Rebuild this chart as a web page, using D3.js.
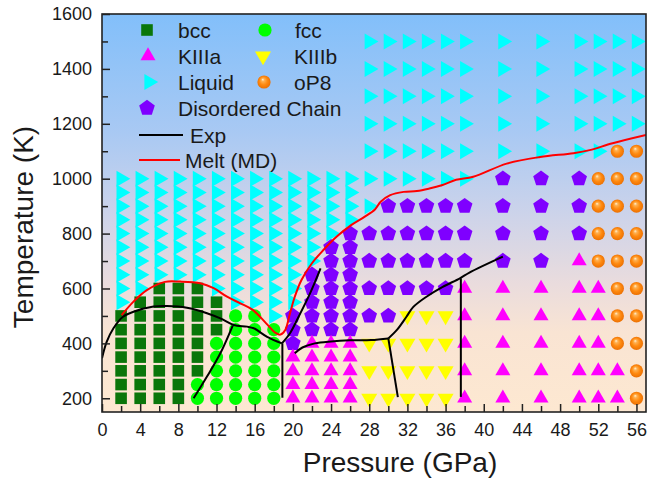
<!DOCTYPE html>
<html><head><meta charset="utf-8">
<script src="https://cdn.jsdelivr.net/npm/d3@7"></script>
<style>
body{margin:0;background:#fff}
svg{display:block}
text{font-family:"Liberation Sans",Arial,sans-serif;fill:#1a1a1a}
</style>
</head><body>
<svg id="chart" width="651" height="481"></svg>
<script>
// ---- ticks ----
const xTicks=[0,4,8,12,16,20,24,28,32,36,40,44,48,52,56];
const xMinorTicks=[2,6,10,14,18,22,26,30,34,38,42,46,50,54];
const yTicks=[200,400,600,800,1000,1200,1400,1600];
const yMinorTicks=[300,500,700,900,1100,1300,1500];

// ---- phase points: [pressure GPa, temperatures K] ----
const bcc=[
 [2,[200,250,300,350,400,450,500]],
 [4,[200,250,300,350,400,450,500,550]],
 [6,[200,250,300,350,400,450,500,550,600]],
 [8,[200,250,300,350,400,450,500,550,600]],
 [10,[300,350,400,450,500,550,600]],
 [12,[450,500,550]]
];
const fcc=[
 [10,[200,250]],
 [12,[200,250,300,350,400]],
 [14,[200,250,300,350,400,450,500]],
 [16,[200,250,300,350,400,450,500]],
 [18,[200,250,300,350,400,450]]
];
const liquid=[
 [2,[550,600,650,700,750,800,850,900,950,1000]],
 [4,[600,650,700,750,800,850,900,950,1000]],
 [6,[650,700,750,800,850,900,950,1000]],
 [8,[650,700,750,800,850,900,950,1000]],
 [10,[650,700,750,800,850,900,950,1000]],
 [12,[600,650,700,750,800,850,900,950,1000]],
 [14,[550,600,650,700,750,800,850,900,950,1000]],
 [16,[550,600,650,700,750,800,850,900,950,1000]],
 [18,[500,550,600,650,700,750,800,850,900,950,1000]],
 [20,[550,600,650,700,750,800,850,900,950,1000]],
 [22,[700,750,800,850,900,950,1000]],
 [24,[800,850,900,950,1000]],
 [26,[850,900,950,1000]],
 [28,[900,1000,1100,1200,1300,1400,1500]],
 [30,[1000,1100,1200,1300,1400,1500]],
 [32,[1000,1100,1200,1300,1400,1500]],
 [34,[1000,1100,1200,1300,1400,1500]],
 [36,[1000,1100,1200,1300,1400,1500]],
 [38,[1000,1100,1200,1300,1400,1500]],
 [42,[1100,1200,1300,1400,1500]],
 [46,[1100,1200,1300,1400,1500]],
 [50,[1100,1200,1300,1400,1500]],
 [52,[1100,1200,1300,1400,1500]],
 [54,[1200,1300,1400,1500]],
 [56,[1200,1300,1400,1500]]
];
const chain=[
 [20,[400,450,500]],
 [22,[450,500,550,600,650]],
 [24,[450,500,550,600,650,700,750]],
 [26,[450,500,550,600,650,700,750,800]],
 [28,[500,600,700,800]],
 [30,[500,600,700,800,900]],
 [32,[600,700,800,900]],
 [34,[600,700,800,900]],
 [36,[600,700,800,900]],
 [38,[700,800,900]],
 [42,[700,800,900,1000]],
 [46,[700,800,900,1000]],
 [50,[800,900,1000]]
];
const kIIIa=[
 [20,[200,250,300,350]],
 [22,[200,250,300,350,400]],
 [24,[200,250,300,350,400]],
 [26,[200,250,300,350,400]],
 [38,[200,300,400,500,600]],
 [42,[200,300,400,500,600]],
 [46,[200,300,400,500,600]],
 [50,[200,300,400,500,600,700]],
 [52,[200,300,400,500,600]],
 [54,[200,300]]
];
const kIIIb=[
 [28,[200,300,400]],
 [30,[200,300,400]],
 [32,[200,300,400,500]],
 [34,[200,300,400,500]],
 [36,[200,300,400,500]]
];
const oP8=[
 [52,[700,800,900,1000]],
 [54,[400,500,600,700,800,900,1000,1100]],
 [56,[200,300,400,500,600,700,800,900,1000,1100]]
];

// ---- boundary lines [P, T] ----
const expMainLow=[[0,346],[0.5,406],[1.2,455],[2.2,497],[3.3,515],[5.4,534],[6.8,536],[8.9,530],[11,510],[12.4,491],[13.8,467],[15.2,461],[15.9,455],[17.3,424],[18.85,400]];
const expMainHigh=[[18.85,400],[19.7,437],[20.6,497],[21.8,582],[22.9,673]];
const expTripleDown=[[18.9,400],[18.9,202]];
const expBccFcc=[[9.6,200],[11,279],[12.4,364],[13.7,465]];
const expKIII=[[20.2,364],[21,385],[22.3,400],[24,407],[26,411],[28.2,412],[30,418]];
const expKIIIDown=[[30,418],[31,204]];
const expUpper=[[30,418],[30.9,449],[31.9,497],[32.6,532],[34,570],[35.7,606],[37.5,637],[38.5,658],[42,716]];
const expVert=[[37.6,637],[37.6,205]];
const meltMD=[[2.06,503],[3.3,552],[4.7,594],[6.6,624],[8.2,625],[10.3,619],[11.7,601],[13.1,570],[14.5,546],[15.8,522],[17.2,473],[18.2,438],[18.7,432],[19.2,449],[19.7,510],[20.2,570],[20.9,631],[22,692],[23.2,740],[24.6,789],[26.1,831],[27.5,861],[28.6,888],[29.2,916],[30.2,940],[31.6,952],[33,955],[34.3,964],[35.6,976],[37.1,996],[38.9,1007],[42.4,1055],[45.9,1079],[49.4,1093],[51.1,1104],[53.5,1129],[57,1159]];

// ---- setup ----
const svg=d3.select("#chart");
const L=102,R=646,T=14,B=412;
const x=d3.scaleLinear().domain([0,57]).range([L,R]);
const y=d3.scaleLinear().domain([150,1600]).range([B,T]);

const defs=svg.append("defs");
const bg=defs.append("linearGradient").attr("id","bg").attr("x1",0).attr("y1",0).attr("x2",0).attr("y2",1);
[["0%","#82bffa"],["30%","#a9c9f3"],["50%","#ccd3ea"],["68%","#eadcdd"],["80%","#f9e4d3"],["100%","#fde8d1"]]
 .forEach(s=>bg.append("stop").attr("offset",s[0]).attr("stop-color",s[1]));
const ball=defs.append("radialGradient").attr("id","ball").attr("cx","50%").attr("cy","50%").attr("r","55%").attr("fx","40%").attr("fy","30%");
[["0%","#fff3d6"],["22%","#ffb050"],["55%","#ff8a10"],["100%","#e86c00"]]
 .forEach(s=>ball.append("stop").attr("offset",s[0]).attr("stop-color",s[1]));
defs.append("clipPath").attr("id","clip").append("rect").attr("x",L).attr("y",T).attr("width",R-L).attr("height",B-T);

svg.append("rect").attr("x",L).attr("y",T).attr("width",R-L).attr("height",B-T).attr("fill","url(#bg)");

// symbol shapes
function symPath(type){
  const s3=Math.sqrt(3);
  if(type==="square"){const a=5.8;return `M${-a},${-a}H${a}V${a}H${-a}Z`;}
  if(type==="circle"){const r=6.6;return `M${r},0A${r},${r} 0 1,1 ${-r},0A${r},${r} 0 1,1 ${r},0Z`;}
  if(type==="up"){const s=15,h=s*s3/2;return `M0,${-2*h/3}L${s/2},${h/3}L${-s/2},${h/3}Z`;}
  if(type==="down"){const s=16,h=s*s3/2;return `M0,${2*h/3}L${s/2},${-h/3}L${-s/2},${-h/3}Z`;}
  if(type==="right"){const s=16,h=s*s3/2;return `M${-h/3},${-s/2}L${2*h/3},0L${-h/3},${s/2}Z`;}
  if(type==="pent"){const r=8.2;const pts=d3.range(5).map(k=>{const a=-Math.PI/2+k*2*Math.PI/5;return [r*Math.cos(a),r*Math.sin(a)];});return "M"+pts.map(p=>p[0].toFixed(2)+","+p[1].toFixed(2)).join("L")+"Z";}
}
const phases=[
 {name:"Liquid",data:liquid,shape:"right",fill:"#00ffff"},
 {name:"bcc",data:bcc,shape:"square",fill:"#0a760a"},
 {name:"fcc",data:fcc,shape:"circle",fill:"#00ff00"},
 {name:"Disordered Chain",data:chain,shape:"pent",fill:"#7f00ff"},
 {name:"KIIIa",data:kIIIa,shape:"up",fill:"#ff00ff"},
 {name:"KIIIb",data:kIIIb,shape:"down",fill:"#ffff00"},
 {name:"oP8",data:oP8,shape:"circle",fill:"url(#ball)"}
];
const plot=svg.append("g").attr("clip-path","url(#clip)");
phases.forEach(ph=>{
  const pts=ph.data.flatMap(([p,ts])=>ts.map(t=>[p,t]));
  plot.append("g").selectAll("path").data(pts).join("path")
    .attr("d",symPath(ph.shape))
    .attr("transform",d=>`translate(${x(d[0])},${y(d[1])})`)
    .attr("fill",ph.fill);
});

// lines
const smooth=d3.line().x(d=>x(d[0])).y(d=>y(d[1])).curve(d3.curveCatmullRom.alpha(0.5));
[expMainLow,expMainHigh,expTripleDown,expBccFcc,expKIII,expKIIIDown,expUpper,expVert].forEach(ln=>{
  plot.append("path").attr("d",smooth(ln)).attr("fill","none").attr("stroke","#000").attr("stroke-width",2);
});
plot.append("path").attr("d",smooth(meltMD)).attr("fill","none").attr("stroke","#ff0000").attr("stroke-width",2);

// axes
const fs="18px";
const ax=svg.append("g").attr("transform",`translate(0,${B})`)
 .call(d3.axisBottom(x).tickValues(xTicks).tickSizeInner(-8).tickSizeOuter(0).tickPadding(11).tickFormat(d3.format("d")));
const axm=svg.append("g").attr("transform",`translate(0,${B})`)
 .call(d3.axisBottom(x).tickValues(xMinorTicks).tickSizeInner(-6).tickSizeOuter(0).tickFormat(""));
const ay=svg.append("g").attr("transform",`translate(${L},0)`)
 .call(d3.axisLeft(y).tickValues(yTicks).tickSizeInner(-8).tickSizeOuter(0).tickPadding(10).tickFormat(d3.format("d")));
const aym=svg.append("g").attr("transform",`translate(${L},0)`)
 .call(d3.axisLeft(y).tickValues(yMinorTicks).tickSizeInner(-6).tickSizeOuter(0).tickFormat(""));
[ax,axm,ay,aym].forEach(g=>{
  g.select(".domain").remove();
  g.selectAll("line").attr("stroke","#222").attr("stroke-width",1.5);
  g.selectAll("text").attr("font-family","Liberation Sans, Arial, sans-serif").attr("font-size",fs).attr("fill","#1a1a1a");
});
svg.append("rect").attr("x",L).attr("y",T).attr("width",R-L).attr("height",B-T)
 .attr("fill","none").attr("stroke","#222").attr("stroke-width",1.6);

// axis titles
svg.append("text").attr("x",400).attr("y",472).attr("text-anchor","middle").attr("font-size","28px").text("Pressure (GPa)");
svg.append("text").attr("transform","translate(33,227) rotate(-90)").attr("text-anchor","middle").attr("font-size","28px").text("Temperature (K)");

// legend
const leg=svg.append("g");
const legItems=[
 {shape:"square",fill:"#0a760a",label:"bcc",mx:147,tx:178,cy:30},
 {shape:"circle",fill:"#00ff00",label:"fcc",mx:265,tx:295,cy:30},
 {shape:"up",fill:"#ff00ff",label:"KIIIa",mx:148,tx:178,cy:56},
 {shape:"down",fill:"#ffff00",label:"KIIIb",mx:263,tx:294,cy:56},
 {shape:"right",fill:"#00ffff",label:"Liquid",mx:149,tx:178,cy:82},
 {shape:"circle",fill:"url(#ball)",label:"oP8",mx:264,tx:294,cy:82},
 {shape:"pent",fill:"#7f00ff",label:"Disordered Chain",mx:147,tx:178,cy:108}
];
legItems.forEach(it=>{
  leg.append("path").attr("d",symPath(it.shape)).attr("transform",`translate(${it.mx},${it.cy})`).attr("fill",it.fill);
  leg.append("text").attr("x",it.tx).attr("y",it.cy+7.5).attr("font-size","21px").text(it.label);
});
leg.append("line").attr("x1",139).attr("x2",183).attr("y1",135).attr("y2",135).attr("stroke","#000").attr("stroke-width",2);
leg.append("text").attr("x",190).attr("y",142.5).attr("font-size","21px").text("Exp");
leg.append("line").attr("x1",139).attr("x2",180).attr("y1",160).attr("y2",160).attr("stroke","#ff0000").attr("stroke-width",2);
leg.append("text").attr("x",185).attr("y",167.5).attr("font-size","21px").text("Melt (MD)");
</script>
</body></html>
